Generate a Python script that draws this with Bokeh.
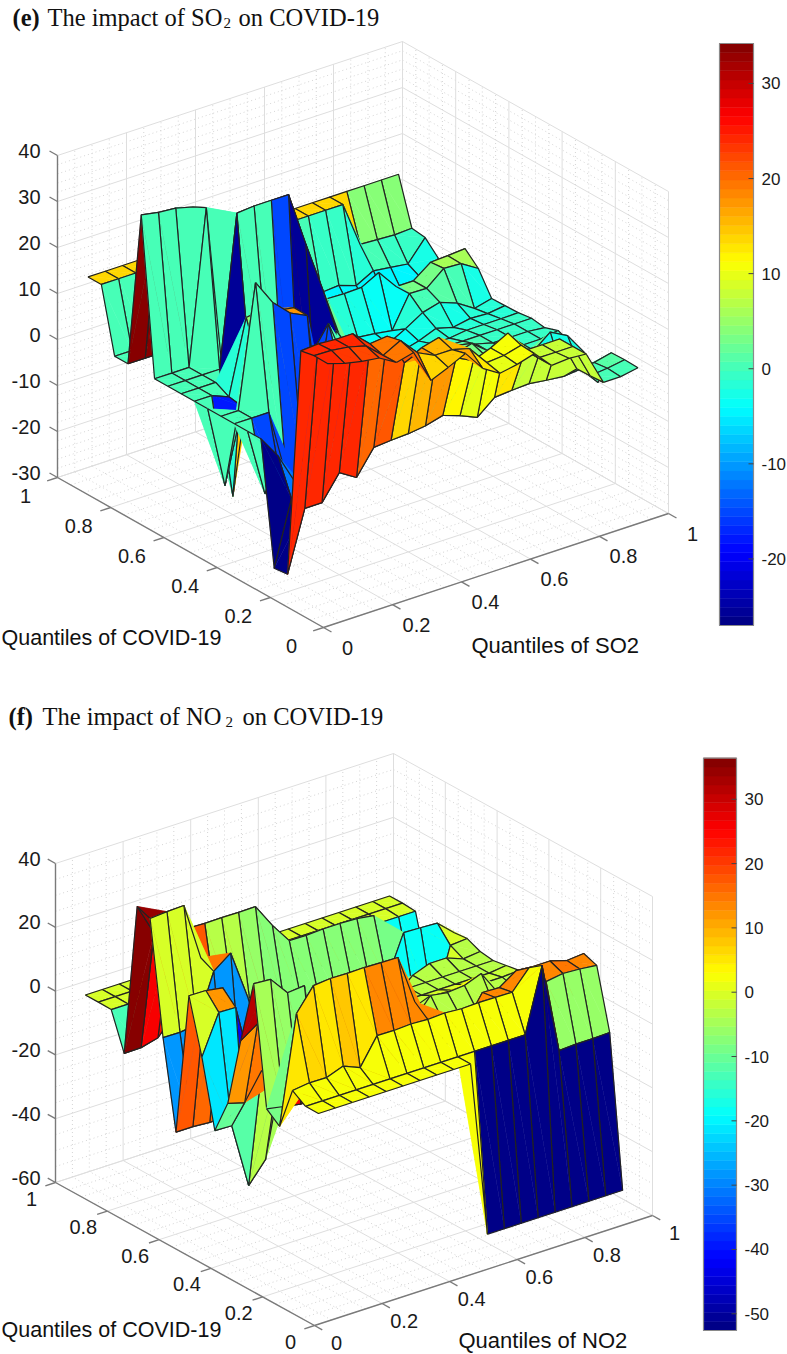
from bokeh.plotting import figure
from bokeh.embed import file_html
from bokeh.resources import INLINE
from bokeh.models import Range1d

QUANTILES = [0.05,0.10,0.15,0.20,0.25,0.30,0.35,0.40,0.45,0.50,0.55,0.60,0.65,0.70,0.75,0.80,0.85,0.90,0.95]
AXIS_TICKS = [0,0.2,0.4,0.6,0.8,1]
MINOR_STEPS = [0.05,0.1,0.15,0.25,0.3,0.35,0.45,0.5,0.55,0.65,0.7,0.75,0.85,0.9,0.95]

# rows: COVID-19 quantile 0.05..0.95, columns: pollutant quantile 0.05..0.95
Z_SO2 = [
[24.5,23.3,22.5,22,19.8,20.7,13.4,15,16.8,12.3,10,10.7,11.8,8,8.3,8,.6,.6,1.3],
[24.6,24.5,24,23,19.7,21.7,17.8,16,16,15,10.7,11,12,8,8,8,.4,.8,1.4],
[24,24.3,24,24,20.6,21,14,16,17,11.4,9.5,11,13,8,8,8,.3,.4,1.3],
[-26.2,-13.1,-13.1,-7.8,-10.1,-4.8,-4.5,-4.3,-3.8,-2.8,-4.1,-5.7,-2.6,-2.3,-2.1,-2.6,-3,-2.6,-6.8],
[-26.5,-12.6,-12.6,-6,-6,-3,-5,0,2,1,0,-3,-2,-2,-2,2,5,3,-2],
[0,-5,-12,-6,-5,-5,-8,-3,2,3,-3,-3,3,2,-2,-1,-1,-1,-1.6],
[0,-14.8,-15,-15,-15,-15,-10,-3,-2,-3,-3,-3,2,3,0,-1,-1,-1,-.4],
[0,0,0,-15,-15,-15,-15,-2,-1,-1,-3,-3,-3,1,0,-1,-1,-1,-1.4],
[0,0,26.6,21,17.5,15.7,-15,0,0,-1,-3,-3,-3,-1,-1,-1,-1,-1,-1],
[0,-18,-2,5,16.4,15.8,-15,9.9,0,-1,-3,-3,-3,-2,-2,-1.5,-1.5,-1.5,-1.4],
[0,0,-1.5,14.5,15,12,-26,3,0,0,-4,-4,-4,-3,-1.5,-2.5,-1.8,-2,-1.5],
[0,0,0,-26,0,0,-15,-26,-26,2.6,-4,-4,-4,-2,.3,1.3,-.1,-2.5,-1.6],
[0,0,0,0,32.7,33,33,33,21,9.7,-1.8,-3,-3.4,-4,2.8,2.7,5.8,5.6,3.3],
[0,0,0,33.5,-6,0,0,0,0,0,5,4.9,5,7,2.7,2.7,5.5,5.7,6],
[34,33.3,33,32,0,0,0,0,0,0,0,-5,-5,-5,-5,-5,-5,-2,1],
[0,0,0,0,0,0,0,0,0,0,0,-5,-5,-5,-5,-5,-5,-2.5,.6],
[0,0,0,0,0,0,0,0,0,0,0,0,-1,-.7,-2,0,-.5,-1,3.5],
[14,14,14,14,14,14,14,14,14,14,14,14,14,14,14,4.1,3.9,3.7,3.9],
[14,14,14,14,14,14,14,14,14,14,14,14,14,14,14,14,14,14,14],
]
Z_NO2 = [
[2.5,2.5,2.5,2.5,2.5,2.5,2.5,2.5,2.5,2.5,-52.6,-52.6,-52.6,-52.6,-52.6,-52.6,-52.6,-52.6,-52.6],
[2.5,2.5,2.5,2.5,2.5,2.5,2.5,2.5,2.5,2.5,2.5,2.5,2.5,2.5,22.5,-5.9,-5.6,-5.6,-5.4],
[5.2,5.9,5.8,7.7,5.5,13.8,13.7,14,13.7,14,13.6,13.8,13.7,13.6,19.6,13.5,14.3,14,13.4],
[-8.3,25.4,32.4,32.9,32.8,32.9,32.7,32.6,17,8,5,5,13,12.8,16.4,16,16,14.4,14.9],
[-5,-6,-7,-7,-8,-8,-8,-8,-3,-3,-3,-3,3,3,3,5,-3,-3,-3],
[32,31.6,25.7,26.2,-8,-8,-8,-8,-3,-3,-3,-3,-3,-3,-3,-3,-3,-3,-3],
[11.9,15.5,-5,-5,-8,-8,-8,-8,-3,-3,-3,-3,-3,-3,-3,-3,-3,-3,-3],
[-10,-11.5,-3.2,-5,-8,-8,-8,-8,-3,-3,-3,-3,3.1,2.3,2.8,4.8,-3,-3,-2],
[-20.8,-21,-41.5,-35,-8,-8,-8,-8,-3,-3,-3,-3,-2,-.9,-1,-1,-2,-2,-1.6],
[0,12.3,12.1,-10,-8,-8,-8,-8,-3,-3,-3,-3,-3,-3,-3,-3,-3,-3,-2.3],
[17,16.9,16,-25,-8,-8,-8,-8,-3,-3,-3,-3,-3,-3,-3,-3,-3,-3,-3],
[-28,-28,-28.4,-28,-28,-8,-8,-8,-8,-8,-8,-8,-8,-8,-3,-1,-1,-3,-2.4],
[-.6,-.7,0,15,19,3.6,-8,-8,-8,-8,-8,-8,-8,-8,-19,-19,-19,-1,-.6],
[34.5,34.9,35.1,17,-3,-3,-6,-8,-8,-8,-8,-8,-8,-8,-9,4.2,4,3.7,-1],
[36,26,24,24,23.8,23.9,23.8,23.9,16.3,9.8,9.7,10,10,9.8,9,-19,-19,-19,-19],
[-12.3,-12.2,-10.8,-5,-5,-5,-5,-5,-5,-5,-5,-5,-5,-5,-5,-10,-19,-19,-19],
[-.8,-.8,-.8,-.8,-.8,-.8,-.8,-.8,-.8,-.8,-.8,-.8,-.8,-.8,-.8,-1,-1,-1,-1],
[-.7,-.7,-.7,-.7,-.7,-.7,-.7,-.7,-.7,-.7,-.7,-.7,-.7,-.7,-.7,-.7,-.7,-.7,-.7],
[-.7,-.7,-.7,-.7,-.7,-.7,-.7,-.7,-.7,-.7,-.7,-.7,-.7,-.7,-.7,-.7,-.7,-.7,-.7],
]
Z_TICKS_SO2 = [-30,-20,-10,0,10,20,30,40]
Z_TICKS_NO2 = [-60,-40,-20,0,20,40]
CBAR_TICKS_SO2 = [-20,-10,0,10,20,30]
CBAR_TICKS_NO2 = [-50,-40,-30,-20,-10,0,10,20,30]

def jet(t):
    def c(x): return max(0.0, min(1.0, x))
    r = c(min(4*t-1.5, -4*t+4.5))
    g = c(min(4*t-0.5, -4*t+3.5))
    b = c(min(4*t+0.5, -4*t+2.5))
    return "#%02x%02x%02x" % (int(r*255), int(g*255), int(b*255))

LEVELS = [jet((k+0.5)/64) for k in range(64)]

def level(z, lo, hi):
    return LEVELS[max(0, min(63, int((z-lo)/(hi-lo)*64)))]

p = figure(width=787, height=1354, output_backend="svg", toolbar_location=None,
           x_range=Range1d(0,787), y_range=Range1d(1354,0), min_border=0)
p.axis.visible = False
p.grid.visible = False
p.outline_line_color = None

def panel(Z, F, U, V, zlo, zhi, kz, zticks, zminor, clo, chi, bar, cticks,
          covid_off, poll_off, zlab_off):
    def P(u, v, z):
        return (F[0]+U[0]*u+V[0]*v, F[1]+U[1]*u+V[1]*v-kz*(z-zlo))
    def seg(a, b):
        return ([a[0], b[0]], [a[1], b[1]])
    maj, mnr = [], []
    for t in AXIS_TICKS:
        maj += [seg(P(t,0,zlo),P(t,1,zlo)), seg(P(0,t,zlo),P(1,t,zlo)),
                seg(P(t,1,zlo),P(t,1,zhi)), seg(P(1,t,zlo),P(1,t,zhi))]
    for t in MINOR_STEPS:
        mnr += [seg(P(t,0,zlo),P(t,1,zlo)), seg(P(0,t,zlo),P(1,t,zlo)),
                seg(P(t,1,zlo),P(t,1,zhi)), seg(P(1,t,zlo),P(1,t,zhi))]
    for z in zticks:
        maj += [seg(P(0,1,z),P(1,1,z)), seg(P(1,1,z),P(1,0,z))]
    for z in zminor:
        mnr += [seg(P(0,1,z),P(1,1,z)), seg(P(1,1,z),P(1,0,z))]
    p.multi_line([s[0] for s in mnr],[s[1] for s in mnr], line_color="#d4d4d4", line_width=1, line_dash="1 3")
    p.multi_line([s[0] for s in maj],[s[1] for s in maj], line_color="#dedede", line_width=1)
    # surface, far quads first; each face takes the colour of its first corner.
    # A face is filled as two triangles and then outlined, so that twisted faces fill as in the source.
    xs, ys, fc, fa, lc, lw = [], [], [], [], [], []
    n = len(QUANTILES)
    for i in range(n-2,-1,-1):
        for j in range(n-2,-1,-1):
            a = P(QUANTILES[j],QUANTILES[i],Z[i][j])
            b = P(QUANTILES[j+1],QUANTILES[i],Z[i][j+1])
            c = P(QUANTILES[j+1],QUANTILES[i+1],Z[i+1][j+1])
            d = P(QUANTILES[j],QUANTILES[i+1],Z[i+1][j])
            col = level(Z[i][j],clo,chi)
            for poly, alpha, line, width in ((( a,b,d),1,col,0.5),((b,c,d),1,col,0.5),((a,b,c,d),0,"#222222",1.2)):
                xs.append([q[0] for q in poly]); ys.append([q[1] for q in poly])
                fc.append(col); fa.append(alpha); lc.append(line); lw.append(width)
    p.patches(xs, ys, fill_color=fc, fill_alpha=fa, line_color=lc, line_width=lw)
    # axes
    ax = [seg(P(0,1,zlo),P(0,1,zhi)), seg(P(0,1,zlo),P(0,0,zlo)), seg(P(0,0,zlo),P(1,0,zlo))]
    for z in zticks:
        ax.append(seg(P(0,1,z),P(0,1.03,z)))
    for t in AXIS_TICKS:
        ax.append(seg(P(0,t,zlo),P(-0.03,t,zlo)))
        ax.append(seg(P(t,0,zlo),P(t,-0.03,zlo)))
    p.multi_line([s[0] for s in ax],[s[1] for s in ax], line_color="#7a7a7a", line_width=1.4)
    def lab(x,y,s,size,align="center",color="#1a1a1a",font="Liberation Sans",style="normal"):
        p.text([x],[y],text=[s],text_font={"value":font},text_font_size=size,text_align=align,
               text_baseline="middle",text_color=color,text_font_style=style)
    for z in zticks:
        q = P(0,1,z)
        lab(q[0]+zlab_off[0], q[1]+zlab_off[1], str(z), "20px", "right")
    for t in AXIS_TICKS:
        q = P(0,t,zlo)
        lab(q[0]+covid_off[0], q[1]+covid_off[1], "%g"%t, "20px")
        q = P(t,0,zlo)
        lab(q[0]+poll_off[0], q[1]+poll_off[1], "%g"%t, "20px")
    # colour bar
    bx0,bx1,by0,by1 = bar   # pixel box; y0 is chi, y1 is clo
    def By(v): return by1+(by0-by1)*(v-clo)/(chi-clo)
    p.quad(left=[bx0]*64,right=[bx1]*64,
           top=[By(clo+(chi-clo)*(k+1)/64) for k in range(64)],
           bottom=[By(clo+(chi-clo)*k/64) for k in range(64)],
           fill_color=LEVELS, line_color=LEVELS, line_width=0.5)
    p.quad(left=[bx0],right=[bx1],top=[by0],bottom=[by1],fill_color=None,line_color="#8a8a8a",line_width=1.2)
    p.segment([bx1-5]*len(cticks),[By(v) for v in cticks],[bx1]*len(cticks),[By(v) for v in cticks],line_color="#444444",line_width=1)
    for v in cticks:
        lab(bx1+8, By(v), str(v), "17px", "left")

panel(Z_SO2,(323,627),(345,-114),(-266,-150),-30,40,4.6,Z_TICKS_SO2,
      [v for v in range(-28,40,2) if v%10],-27,34.2,(719,753,43,625),CBAR_TICKS_SO2,
      (-32,18),(24,20),(-17,-5))
panel(Z_NO2,(314,1325),(338,-110),(-259,-143),-60,40,3.19,Z_TICKS_NO2,
      [v for v in range(-55,40,5) if v%20],-52.6,36.4,(703,736,757.6,1330),CBAR_TICKS_NO2,
      (-24,16),(22,17),(-15,-5))

def txt(x,y,s,size,font="Liberation Sans",style="normal"):
    p.text([x],[y],text=[s],text_font={"value":font},text_font_size=size,text_align="left",
           text_baseline="middle",text_color="#111111",text_font_style=style)

txt(1,637,"Quantiles of COVID-19","21.5px")
txt(471,645,"Quantiles of SO2","22px")
txt(1,1329,"Quantiles of COVID-19","21.5px")
txt(458,1340,"Quantiles of NO2","22px")

S="Liberation Serif"
txt(12,17,"(e)","24.5px",S,"bold")
txt(47,17,"The impact of SO","24.5px",S)
txt(223,22,"2","15px",S)
txt(238,17,"on COVID-19","24.5px",S)
txt(8,716,"(f)","24.5px",S,"bold")
txt(42,716,"The impact of NO","24.5px",S)
txt(225,721,"2","15px",S)
txt(242,716,"on COVID-19","24.5px",S)

open("out.html","w").write(file_html(p,INLINE))
